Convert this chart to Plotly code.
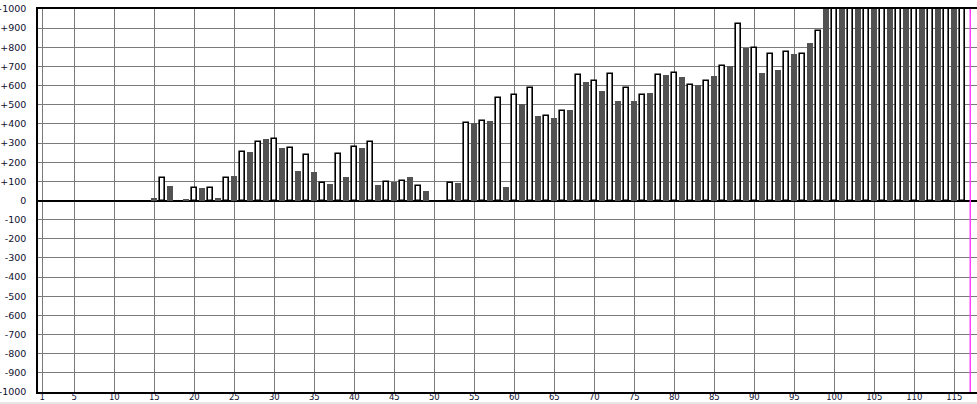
import plotly.graph_objects as go

# Category positions 1..116 and the bar value at each one
categories = list(range(1, 117))
values = (
    [0] * 14 +                                   # 1-14
    [15, 115, 75, 0, 8, 63, 63, 63, 12, 115,     # 15-24
     127, 251, 251, 308, 320, 319, 273, 272, 153, 240,   # 25-34
     148, 89, 85, 245, 122, 282, 273, 303, 80, 96,       # 35-44
     97, 101, 122, 78, 50, 0, 0, 89, 90, 404,            # 45-54
     404, 414, 414, 533, 70, 550, 503, 585, 440, 439,    # 55-64
     430, 470, 472, 653, 618, 622, 571, 658, 519, 585,   # 65-74
     519, 549, 561, 653, 655, 664, 644, 601, 603, 622,   # 75-84
     650, 702, 702, 920, 794, 794, 665, 763, 681, 773,   # 85-94
     765, 763, 822, 883] +                               # 95-98
    [1000] * 18                                          # 99-116
)
marker_position = 117

x_tickvals = [1] + list(range(5, 116, 5))
x_ticktext = [str(v) for v in x_tickvals]
y_tickvals = list(range(-1000, 1001, 100))
y_ticktext = [("+" + str(v)) if v > 0 else str(v) for v in y_tickvals]

even_x = [c for c in categories if c % 2 == 0]
even_y = [v for c, v in zip(categories, values) if c % 2 == 0]
odd_x = [c for c in categories if c % 2 == 1]
odd_y = [v for c, v in zip(categories, values) if c % 2 == 1]

fig = go.Figure()
fig.add_trace(go.Bar(
    x=even_x, y=even_y, width=0.62,
    marker=dict(color="white",
                line=dict(color="black", width=[1.6 if v != 0 else 0 for v in even_y])),
    showlegend=False, hoverinfo="x+y",
))
fig.add_trace(go.Bar(
    x=odd_x, y=odd_y, width=0.76,
    marker=dict(color="#525252", line=dict(width=0)),
    showlegend=False, hoverinfo="x+y",
))

fig.add_shape(type="line", xref="x", yref="paper", x0=marker_position, x1=marker_position,
              y0=0, y1=1, line=dict(color="#ff3cff", width=1.5))
fig.add_shape(type="line", xref="paper", yref="paper", x0=-0.05, x1=1.05,
              y0=-0.0287, y1=-0.0287, line=dict(color="#cfcfcf", width=1))

fig.update_layout(
    width=977, height=404,
    margin=dict(l=38, r=0, t=9, b=12, autoexpand=False),
    plot_bgcolor="white", paper_bgcolor="white",
    barmode="overlay",
    bargap=0,
    font=dict(family="DejaVu Sans", size=8.5, color="#101030"),
    xaxis=dict(
        range=[0.46, 117.84], automargin=False,
        tickmode="array", tickvals=x_tickvals, ticktext=x_ticktext,
        showgrid=True, gridcolor="#7a7a7a", gridwidth=1,
        showline=True, linecolor="black", linewidth=1.5, mirror=True,
        ticks="outside", ticklen=0, tickcolor="rgba(0,0,0,0)", zeroline=False,
        ticklabelstandoff=-4,
    ),
    yaxis=dict(
        range=[-1000, 1000], automargin=False,
        tickmode="array", tickvals=y_tickvals, ticktext=y_ticktext,
        tickfont=dict(size=9.5),
        showgrid=True, gridcolor="#7a7a7a", gridwidth=1,
        showline=True, linecolor="black", linewidth=1.5, mirror=False,
        zeroline=True, zerolinecolor="black", zerolinewidth=2,
        ticks="outside", ticklen=8, tickcolor="rgba(0,0,0,0)",
    ),
)

fig.write_html(
    "out.html",
    config={"displayModeBar": False},
    post_script="document.body.style.margin='0';document.body.style.padding='0';",
)
